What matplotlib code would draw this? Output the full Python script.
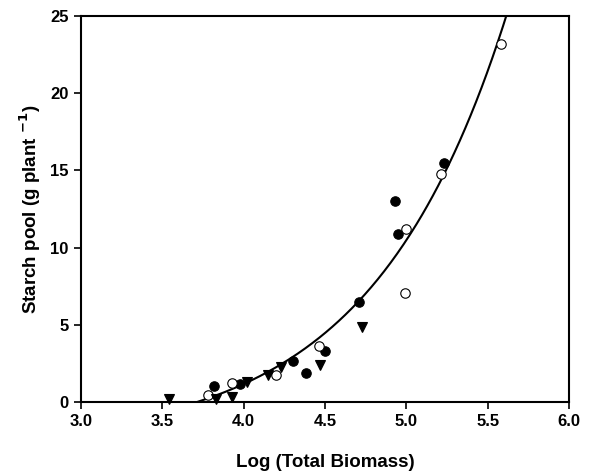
import numpy as np
import matplotlib
matplotlib.use("Agg")
import matplotlib.pyplot as plt

plt.rcParams['font.family'] = ['Liberation Sans', 'DejaVu Sans']
plt.rcParams['font.weight'] = 'bold'
plt.rcParams['mathtext.default'] = 'bf'

# Data
filled_x = [3.82, 3.98, 4.30, 4.38, 4.50, 4.71, 4.93, 4.95, 5.23]
filled_y = [1.05, 1.15, 2.65, 1.90, 3.32, 6.50, 13.04, 10.85, 15.45]
open_x = [3.78, 3.93, 4.20, 4.46, 4.99, 5.00, 5.21, 5.58]
open_y = [0.45, 1.22, 1.74, 3.65, 7.04, 11.20, 14.75, 23.20]
tri_x = [3.54, 3.83, 3.93, 4.02, 4.15, 4.23, 4.47, 4.73]
tri_y = [0.19, 0.17, 0.32, 1.28, 1.72, 2.25, 2.38, 4.88]

# Fitted curve parameters: y = y0 + a*exp(b*x)
fit_a = 0.03306
fit_b = 1.2
fit_y0 = -2.85

xticks = [3.0, 3.5, 4.0, 4.5, 5.0, 5.5, 6.0]
yticks = [0, 5, 10, 15, 20, 25]

fig = plt.figure(figsize=(5.91, 4.75), dpi=100)
ax = fig.add_axes([0.137, 0.1537, 0.826, 0.8126])

x0 = np.log(-fit_y0 / fit_a) / fit_b
xc = np.linspace(x0, 5.7, 300)
yc = fit_y0 + fit_a * np.exp(fit_b * xc)
ax.plot(xc, yc, color='black', lw=1.5, zorder=2)

ax.plot(filled_x, filled_y, 'o', ms=6.8, mfc='black', mec='black', mew=0.8, zorder=3, clip_on=False)
ax.plot(open_x, open_y, 'o', ms=6.8, mfc='white', mec='black', mew=0.8, zorder=3, clip_on=False)
ax.plot(tri_x, tri_y, 'v', ms=7.2, mfc='black', mec='black', mew=0.8, zorder=3, clip_on=False)

ax.set_xlim(3.0, 6.0)
ax.set_ylim(0, 25)
ax.set_xticks(xticks)
ax.set_xticklabels([f"{t:.1f}" for t in xticks])
ax.set_yticks(yticks)
ax.set_yticklabels([str(t) for t in yticks])
ax.tick_params(axis='both', direction='out', length=5, width=1.2, labelsize=12,
               top=False, right=False, pad=4)
for lab in ax.get_xticklabels() + ax.get_yticklabels():
    lab.set_fontweight('bold')
for sp in ax.spines.values():
    sp.set_linewidth(1.5)

ax.set_xlabel("Log (Total Biomass)", fontsize=13.5, fontweight='bold', labelpad=18)
ax.set_ylabel("Starch pool (g plant $^{-1}$)", fontsize=13.5, fontweight='bold', labelpad=5)

fig.savefig("out.png", dpi=100)
